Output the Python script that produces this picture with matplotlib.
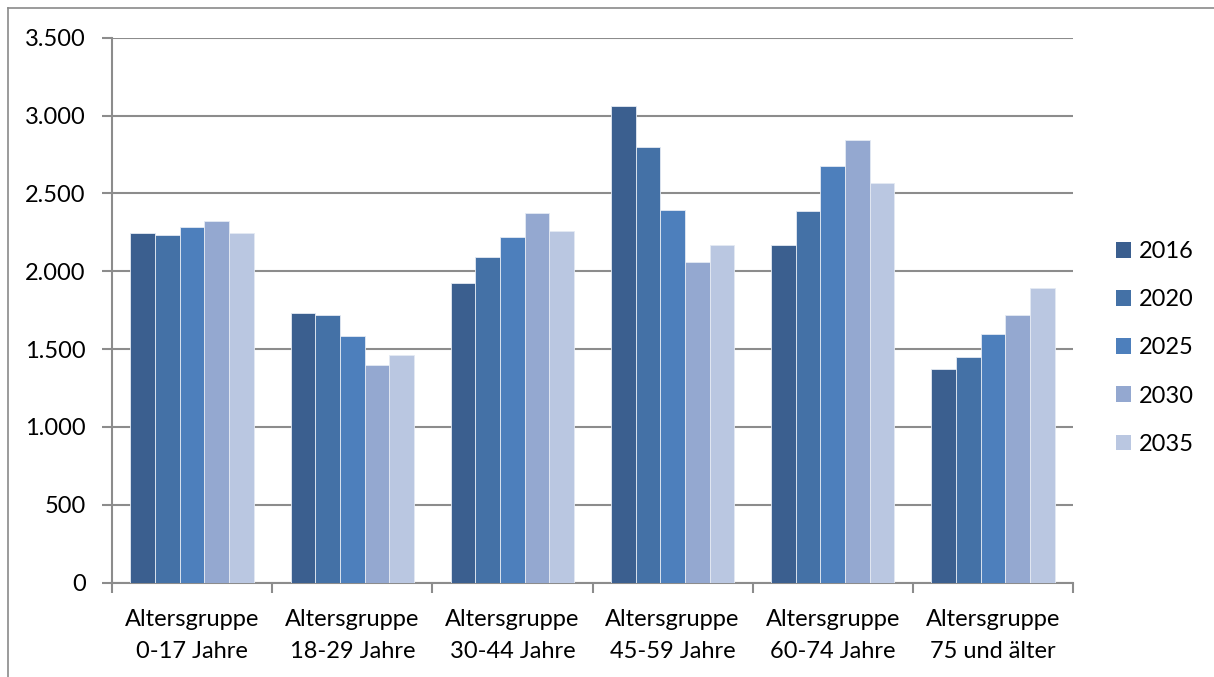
import matplotlib
matplotlib.use("Agg")
import matplotlib.pyplot as plt
import numpy as np
from matplotlib.lines import Line2D
from matplotlib.ticker import FuncFormatter, MultipleLocator

plt.rcParams['font.family'] = ['Lato', 'DejaVu Sans']

categories = ["Altersgruppe\n0-17 Jahre", "Altersgruppe\n18-29 Jahre", "Altersgruppe\n30-44 Jahre",
              "Altersgruppe\n45-59 Jahre", "Altersgruppe\n60-74 Jahre", "Altersgruppe\n75 und älter"]
years = ["2016", "2020", "2025", "2030", "2035"]
values_2016 = [2243, 1731, 1926, 3061, 2166, 1371]
values_2020 = [2232, 1716, 2089, 2798, 2386, 1446]
values_2025 = [2281, 1583, 2219, 2395, 2677, 1596]
values_2030 = [2320, 1397, 2373, 2060, 2843, 1718]
values_2035 = [2243, 1461, 2258, 2170, 2564, 1890]
series = [values_2016, values_2020, values_2025, values_2030, values_2035]
colors = ["#3B5F8F", "#4471A6", "#4D7FBC", "#94A8D0", "#BAC7E1"]

FS = 17
W, H = 1214, 677
fig = plt.figure(figsize=(W / 100, H / 100), dpi=100)
ax = fig.add_axes([112 / W, 1 - 582.5 / H, (1073 - 112) / W, (582.5 - 37.7) / H])

x = np.arange(len(categories))
bw = 0.154
for i, (vals, col, yr) in enumerate(zip(series, colors, years)):
    ax.bar(x + (i - 2) * bw, vals, width=bw, color=col, edgecolor="#E4EAF3",
           linewidth=0.6, label=yr, zorder=3)

grid_col = "#8C8C8C"
ax.set_ylim(0, 3500)
ax.set_xlim(-0.5, len(categories) - 0.5)
ax.yaxis.set_major_locator(MultipleLocator(500))
ax.yaxis.set_major_formatter(FuncFormatter(lambda v, p: f"{int(v):,}".replace(",", ".")))
ax.grid(axis="y", color=grid_col, linewidth=1.5, zorder=0)
ax.set_axisbelow(True)

ax.set_xticks(x)
ax.set_xticklabels(categories, linespacing=1.65)
ax.set_xticks(np.arange(-0.5, len(categories)), minor=True)
ax.tick_params(axis="x", which="major", length=0, pad=19, labelsize=FS)
ax.tick_params(axis="x", which="minor", length=7, width=1.5, color=grid_col, direction="out")
ax.tick_params(axis="y", length=7, width=1.5, color=grid_col, pad=12, labelsize=FS)

for s in ["top", "right"]:
    ax.spines[s].set_visible(False)
for s in ["left", "bottom"]:
    ax.spines[s].set_color(grid_col)
    ax.spines[s].set_linewidth(1.5)

leg = ax.legend(loc="center left", bbox_to_anchor=(1116 / W, 1 - 348 / H),
                bbox_transform=fig.transFigure, frameon=False, fontsize=FS,
                handlelength=0.65, handleheight=0.65, handletextpad=0.3,
                labelspacing=1.15, borderpad=0, borderaxespad=0)
for h in leg.legend_handles:
    h.set_edgecolor("none")

# outer chart frame (top and left edges)
fig.add_artist(Line2D([8 / W, 1.0], [1 - 8 / H, 1 - 8 / H], transform=fig.transFigure,
                      color="#8A8A8A", linewidth=1.2))
fig.add_artist(Line2D([8 / W, 8 / W], [0.0, 1 - 8 / H], transform=fig.transFigure,
                      color="#8A8A8A", linewidth=1.2))

fig.savefig("out.png", dpi=100, facecolor="white")
